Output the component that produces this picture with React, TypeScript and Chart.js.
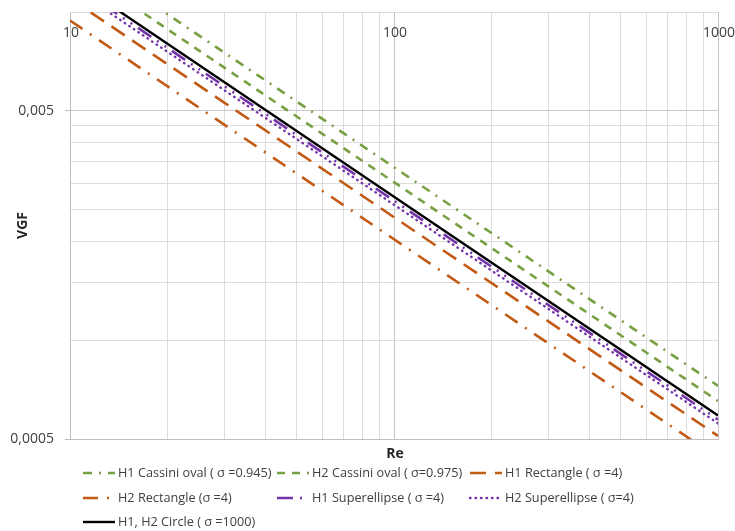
import React, { useEffect, useRef } from 'react';
import { Chart, registerables } from 'chart.js';

Chart.register(...registerables);

// ---- data ----
const reValues = [10, 100, 1000];
const h1Cassini = [0.01562, 0.003366, 0.000726];
const h2Cassini = [0.01406, 0.00303, 0.000653];
const h1Rectangle = [0.011, 0.00237, 0.000511];
const h2Rectangle = [0.00942, 0.002031, 0.000438];
const h1Superellipse = [0.01234, 0.00266, 0.000573];
const h2Superellipse = [0.012, 0.002587, 0.000558];
const circle = [0.0127, 0.002737, 0.00059];

const seriesLabels = [
  'H1 Cassini oval ( σ =0.945)',
  'H2 Cassini oval ( σ=0.975)',
  'H1 Rectangle ( σ =4)',
  'H2 Rectangle (σ =4)',
  'H1 Superellipse ( σ =4)',
  'H2 Superellipse ( σ=4)',
  'H1, H2 Circle ( σ =1000)',
];

const xGridValues = [10, 20, 30, 40, 50, 60, 70, 80, 90, 100, 200, 300, 400, 500, 600, 700, 800, 900, 1000];
const xLabelValues = [10, 100, 1000];
const xLabelTexts = ['10', '100', '1000'];
const yGridValues = [0.0005, 0.001, 0.0015, 0.002, 0.0025, 0.003, 0.0035, 0.004, 0.0045, 0.005, 0.01];
const yLabelValues = [0.0005, 0.005];
const yLabelTexts = ['0,0005', '0,005'];

const GREEN = '#78A042';
const BROWN = '#C25A14';
const PURPLE = '#7434A8';
const BLACK = '#000000';

const legendSlots = [
  [83, 473], [277, 473], [470, 473],
  [83, 498], [277, 498], [470, 498],
  [83, 522],
];

function pts(vals: number[]) {
  return reValues.map((x, i) => ({ x, y: vals[i] }));
}

const overlayPlugin = {
  id: 'overlay',
  afterDraw(chart: any) {
    const ctx = chart.ctx as CanvasRenderingContext2D;
    const xs = chart.scales.x;
    const area = chart.chartArea;
    ctx.save();
    // x tick labels (inside plot, near top)
    ctx.fillStyle = '#404040';
    ctx.font = '14px "Open Sans"';
    ctx.textAlign = 'center';
    ctx.textBaseline = 'middle';
    xLabelValues.forEach((v, i) => {
      ctx.fillText(xLabelTexts[i], xs.getPixelForValue(v) + 1, area.top + 21.5);
    });
    // axis titles
    ctx.fillStyle = '#262626';
    ctx.font = 'bold 14px "Open Sans"';
    ctx.fillText('Re', (area.left + area.right) / 2 + 1, area.bottom + 15);
    ctx.save();
    ctx.translate(23, (area.top + area.bottom) / 2);
    ctx.rotate(-Math.PI / 2);
    ctx.fillText('VGF', 0, 0);
    ctx.restore();
    // legend
    chart.data.datasets.forEach((ds: any, i: number) => {
      const [sx, sy] = legendSlots[i];
      ctx.save();
      ctx.strokeStyle = ds.borderColor;
      ctx.lineWidth = ds.borderWidth;
      ctx.lineCap = ds.borderCapStyle || 'butt';
      ctx.setLineDash(ds.borderDash || []);
      ctx.beginPath();
      ctx.moveTo(sx, sy);
      ctx.lineTo(sx + 32, sy);
      ctx.stroke();
      ctx.restore();
      ctx.fillStyle = '#404040';
      ctx.font = '12.7px "Open Sans"';
      ctx.textAlign = 'left';
      ctx.textBaseline = 'middle';
      ctx.fillText(ds.label, sx + 35, sy);
    });
    ctx.restore();
  },
};

export default function App() {
  const canvasRef = useRef<HTMLCanvasElement>(null);

  useEffect(() => {
    const canvas = canvasRef.current!;
    const mk = (i: number, vals: number[], color: string, dash: number[], width: number, cap: string = 'butt', order = 0) => ({
      label: seriesLabels[i],
      data: pts(vals),
      borderColor: color,
      backgroundColor: color,
      borderWidth: width,
      borderDash: dash,
      borderCapStyle: cap,
      pointRadius: 0,
      pointHoverRadius: 0,
      fill: false,
      tension: 0,
      clip: 0,
      order,
    });
    const chart = new Chart(canvas, {
      type: 'line',
      data: {
        datasets: [
          mk(0, h1Cassini, GREEN, [9, 7, 2, 7], 2.6),
          mk(1, h2Cassini, GREEN, [8, 7], 2.6),
          mk(2, h1Rectangle, BROWN, [16, 9], 2.6),
          mk(3, h2Rectangle, BROWN, [15, 9, 2, 9], 2.6),
          mk(4, h1Superellipse, PURPLE, [16, 7, 2, 7, 2, 7], 2.6),
          mk(5, h2Superellipse, PURPLE, [0.5, 5], 2.4, 'round'),
          mk(6, circle, BLACK, [], 2.4, 'butt', -1),
        ] as any,
      },
      options: {
        responsive: false,
        animation: false,
        events: [],
        layout: { padding: { left: 0, top: 12, right: 17, bottom: 0 } },
        plugins: {
          legend: { display: false },
          tooltip: { enabled: false },
          title: { display: false },
        },
        scales: {
          x: {
            type: 'logarithmic',
            position: 'bottom',
            min: 10,
            max: 1000,
            afterBuildTicks: (s: any) => {
              s.ticks = xGridValues.map((v) => ({ value: v, major: xLabelValues.includes(v) }));
            },
            afterFit: (s: any) => {
              s.height = 92;
              s.paddingLeft = 0;
              s.paddingRight = 0;
            },
            ticks: { display: false },
            grid: {
              drawTicks: false,
              color: (c: any) => (c.tick && xLabelValues.includes(c.tick.value) ? '#c4c4c4' : '#dcdcdc'),
              lineWidth: 1,
            },
            border: { display: true, color: '#bfbfbf', width: 1 },
          },
          y: {
            type: 'logarithmic',
            position: 'left',
            min: 0.0005,
            max: 0.01,
            afterBuildTicks: (s: any) => {
              s.ticks = yGridValues.map((v) => ({ value: v, major: yLabelValues.includes(v) }));
            },
            afterFit: (s: any) => {
              s.width = 70;
              s.paddingTop = 0;
              s.paddingBottom = 0;
            },
            ticks: {
              padding: 11,
              color: '#404040',
              font: { family: '"Open Sans"', size: 14 },
              autoSkip: false,
              callback: (v: any) => {
                const idx = yLabelValues.findIndex((t) => Math.abs(t - Number(v)) < 1e-9);
                return idx >= 0 ? yLabelTexts[idx] : '';
              },
            },
            grid: {
              drawTicks: true,
              tickLength: 5,
              color: (c: any) => (c.tick && yLabelValues.some((t) => Math.abs(t - c.tick.value) < 1e-9) ? '#c8c8c8' : '#dcdcdc'),
              tickColor: (c: any) => (c.tick && yLabelValues.some((t) => Math.abs(t - c.tick.value) < 1e-9) ? '#bfbfbf' : 'rgba(0,0,0,0)'),
              lineWidth: 1,
            },
            border: { display: true, color: '#bfbfbf', width: 1 },
          },
        },
      } as any,
      plugins: [overlayPlugin],
    });
    return () => chart.destroy();
  }, []);

  return (
    <div style={{ position: 'fixed', left: 0, top: 0, width: 735, height: 531, background: '#ffffff' }}>
      <canvas ref={canvasRef} width={735} height={531} style={{ display: 'block' }} />
    </div>
  );
}
